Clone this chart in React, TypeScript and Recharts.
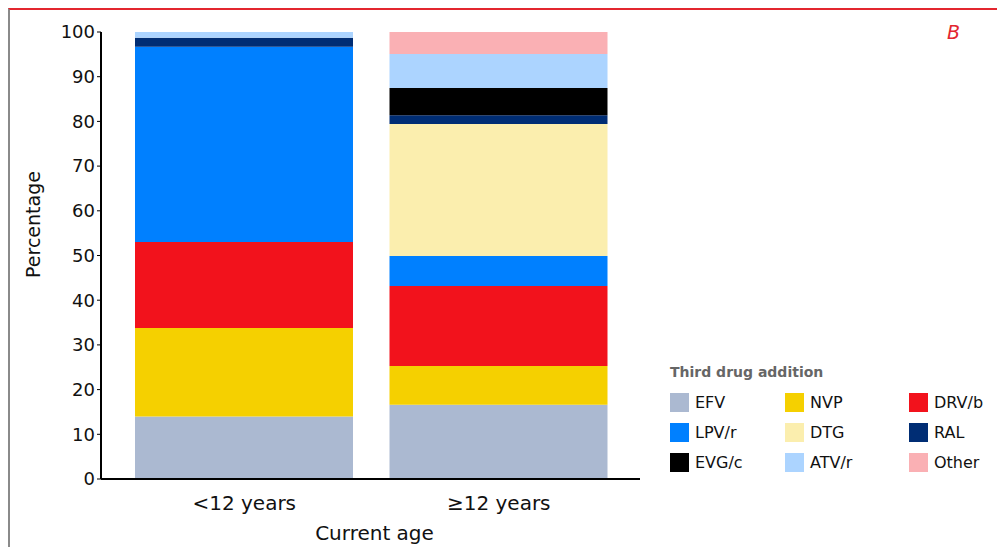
import { Bar, BarChart, XAxis, YAxis } from "recharts";

const FONT = "'DejaVu Sans', Verdana, sans-serif";

const categories = ["<12 years", "≥12 years"];
const yTicks = [0, 10, 20, 30, 40, 50, 60, 70, 80, 90, 100];

// percent of each age group, bottom of the stack first
const efv = [14.0, 16.6];
const nvp = [19.8, 8.7];
const drv = [19.2, 17.9];
const lpv = [43.7, 6.7];
const dtg = [0, 29.5];
const ral = [2.0, 2.0];
const evg = [0, 6.1];
const atv = [1.3, 7.6];
const other = [0, 4.9];

const series = [
  { key: "EFV", values: efv, color: "#abb9d1" },
  { key: "NVP", values: nvp, color: "#f5d000" },
  { key: "DRV/b", values: drv, color: "#f2121c" },
  { key: "LPV/r", values: lpv, color: "#0080ff" },
  { key: "DTG", values: dtg, color: "#fbeeae" },
  { key: "RAL", values: ral, color: "#002d74" },
  { key: "EVG/c", values: evg, color: "#000000" },
  { key: "ATV/r", values: atv, color: "#acd4ff" },
  { key: "Other", values: other, color: "#fab0b4" },
];

const data = categories.map((age, i) => {
  const row: Record<string, string | number> = { age };
  series.forEach((s) => {
    row[s.key] = s.values[i];
  });
  return row;
});

const DrugLegend = () => (
  <div style={{ position: "absolute", left: 670, top: 364, fontFamily: FONT }}>
    <div style={{ fontWeight: "bold", color: "#666", fontSize: 14, marginBottom: 13 }}>
      Third drug addition
    </div>
    <div style={{ display: "grid", gridTemplateColumns: "115px 124px 80px", rowGap: 11 }}>
      {series.map((s) => (
        <div key={s.key} style={{ display: "flex", alignItems: "center", height: 19 }}>
          <span style={{ width: 19, height: 19, background: s.color, marginRight: 6 }} />
          <span style={{ fontSize: 16, color: "#111" }}>{s.key}</span>
        </div>
      ))}
    </div>
  </div>
);

export default function App() {
  return (
    <div style={{ position: "absolute", left: 0, top: 0, width: 997, height: 547, background: "#fff", overflow: "hidden" }}>
      <div
        style={{
          position: "absolute",
          left: 8,
          top: 8,
          right: 0,
          bottom: 0,
          borderTop: "2px solid #e3262f",
          borderLeft: "2px solid #8a8a8a",
        }}
      />
      <BarChart
        width={997}
        height={547}
        data={data}
        margin={{ top: 32, right: 357, left: 41, bottom: 8 }}
        barSize={218}
        style={{ fontFamily: FONT }}
      >
        <XAxis
          dataKey="age"
          height={60}
          padding={{ left: 16, right: 14 }}
          tickLine={false}
          tickMargin={11}
          axisLine={{ stroke: "#000", strokeWidth: 2 }}
          tick={{ fill: "#111", fontSize: 20 }}
          label={({ viewBox }: any) => (
            <text
              x={viewBox.x + viewBox.width / 2 + 4}
              y={viewBox.y + 61}
              textAnchor="middle"
              fontSize={20}
              fill="#111"
              fontFamily={FONT}
            >
              Current age
            </text>
          )}
        />
        <XAxis
          xAxisId="top"
          orientation="top"
          dataKey="age"
          height={0}
          tick={false}
          tickLine={false}
          axisLine={{ stroke: "#808080", strokeWidth: 2 }}
        />
        <YAxis
          type="number"
          domain={[0, 100]}
          ticks={yTicks}
          width={60}
          tickSize={4}
          interval={0}
          axisLine={{ stroke: "#000", strokeWidth: 2 }}
          tickLine={{ stroke: "#000" }}
          tick={{ fill: "#111", fontSize: 18 }}
          label={({ viewBox }: any) => {
            const x = viewBox.x - 1;
            const y = viewBox.y + viewBox.height / 2 - 31;
            return (
              <text
                x={x}
                y={y}
                transform={`rotate(-90 ${x} ${y})`}
                textAnchor="middle"
                fontSize={19}
                fill="#111"
                fontFamily={FONT}
              >
                Percentage
              </text>
            );
          }}
        />
        <YAxis
          yAxisId="right"
          orientation="right"
          domain={[0, 100]}
          width={0}
          tick={false}
          tickLine={false}
          axisLine={{ stroke: "#000", strokeWidth: 2 }}
        />
        {series.map((s) => (
          <Bar key={s.key} dataKey={s.key} stackId="drug" fill={s.color} isAnimationActive={false} />
        ))}
      </BarChart>
      <div
        style={{
          position: "absolute",
          left: 947,
          top: 21,
          color: "#e3262f",
          fontStyle: "italic",
          fontSize: 19,
          fontFamily: FONT,
        }}
      >
        B
      </div>
      <DrugLegend />
    </div>
  );
}
